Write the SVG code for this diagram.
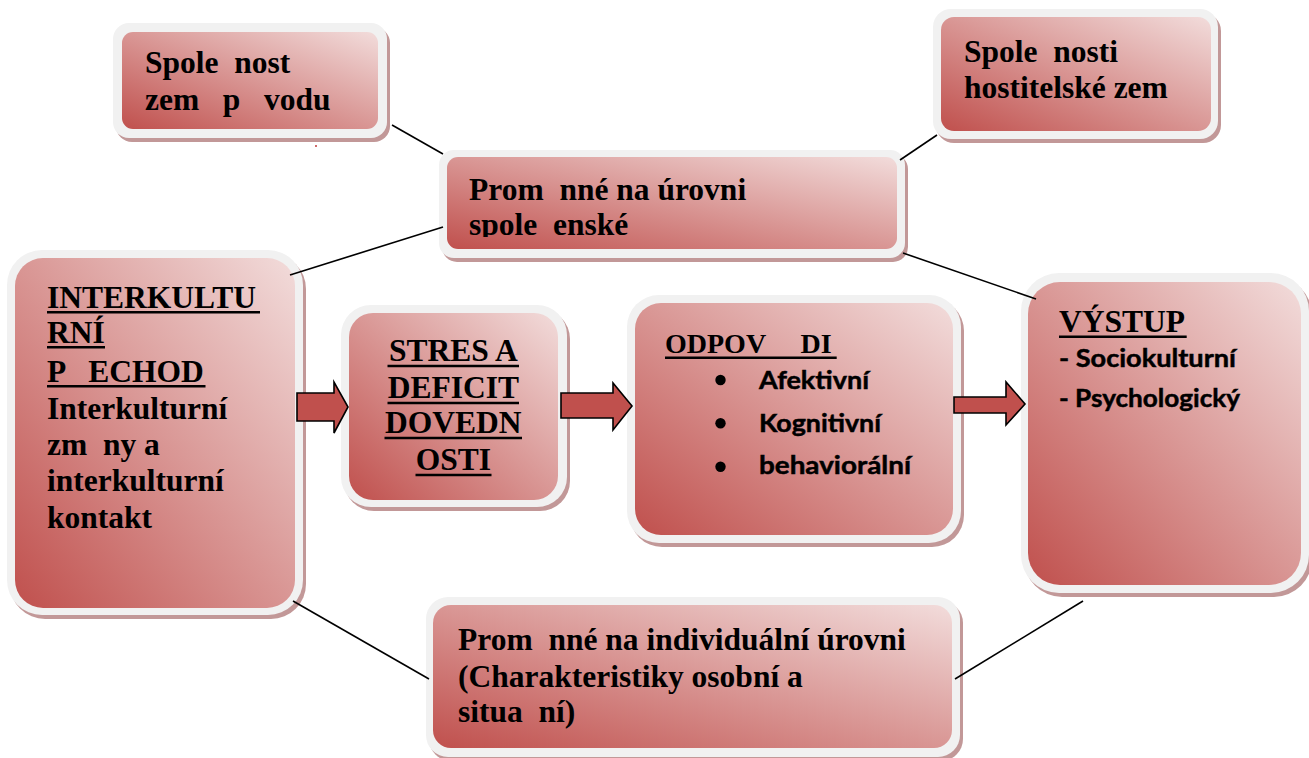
<svg xmlns="http://www.w3.org/2000/svg" width="1309" height="758" viewBox="0 0 1309 758">
<defs>
<linearGradient id="g" x1="0" y1="1" x2="1" y2="0">
<stop offset="0" stop-color="#c0504d"/>
<stop offset="1" stop-color="#f2dcdb"/>
</linearGradient>
<clipPath id="clip3"><rect x="447" y="157" width="450" height="80"/></clipPath>
<style>
.sh{fill:#c29898}
.bd{fill:#f1f1f1}
.in{fill:url(#g)}
.t{font-family:"Liberation Serif","Times New Roman",serif;font-weight:bold;font-size:31.5px;fill:#000;white-space:pre}
.s{font-family:Lato,"Liberation Sans",sans-serif;font-weight:bold;font-size:25.5px;fill:#000;stroke:#000;stroke-width:0.5;white-space:pre}
.ul{stroke:#000;stroke-width:2.6}
.cn{stroke:#000;stroke-width:1.6;fill:none}
.ar{fill:#c0504d;stroke:#000;stroke-width:1.6;stroke-linejoin:miter}
</style>
</defs>
<rect width="1309" height="758" fill="#fff"/>

<rect x="315" y="145" width="2" height="2" fill="#d06a6a"/>

<g id="n1">
<rect class="sh" x="116" y="27" width="274" height="115" rx="16"/>
<rect class="bd" x="113" y="23" width="274" height="115" rx="16"/>
<rect class="in" x="122" y="32" width="256" height="97" rx="11"/>
<text class="t" x="145" y="73">Spole  nost</text>
<text class="t" x="145" y="110">zem   p   vodu</text>
</g>

<g id="n2">
<rect class="sh" x="936" y="13" width="285" height="130" rx="18"/>
<rect class="bd" x="933" y="9" width="285" height="130" rx="18"/>
<rect class="in" x="941" y="17" width="270" height="114" rx="13"/>
<text class="t" x="964" y="62">Spole  nosti</text>
<text class="t" x="964" y="98">hostitelské zem</text>
</g>

<g id="n3">
<rect class="sh" x="442" y="154" width="466" height="108" rx="15"/>
<rect class="bd" x="439" y="150" width="466" height="108" rx="15"/>
<rect class="in" x="447" y="157" width="450" height="92" rx="11"/>
<text class="t" x="469" y="200">Prom  nné na úrovni</text>
<text class="t" x="469" y="235" clip-path="url(#clip3)">spole  enské</text>
</g>

<g id="n4">
<rect class="sh" x="10" y="254" width="296" height="365" rx="35"/>
<rect class="bd" x="7" y="250" width="296" height="365" rx="35"/>
<rect class="in" x="15" y="258" width="280" height="350" rx="28"/>
<text class="t" x="47" y="308">INTERKULTU</text>
<text class="t" x="47" y="343">RNÍ</text>
<text class="t" x="47" y="382">P   ECHOD</text>
<text class="t" x="47" y="419">Interkulturní</text>
<text class="t" x="47" y="455">zm  ny a</text>
<text class="t" x="47" y="491">interkulturní</text>
<text class="t" x="47" y="528">kontakt</text>
<line class="ul" x1="47" y1="312.3" x2="260" y2="312.3"/>
<line class="ul" x1="47" y1="347.3" x2="105" y2="347.3"/>
<line class="ul" x1="47" y1="386.3" x2="205.5" y2="386.3"/>
</g>

<g id="n5">
<rect class="sh" x="344" y="309" width="226" height="202" rx="30"/>
<rect class="bd" x="341" y="305" width="226" height="202" rx="30"/>
<rect class="in" x="349" y="313" width="209" height="187" rx="24"/>
<text class="t" x="453.3" y="361" text-anchor="middle">STRES A</text>
<text class="t" x="453.3" y="398" text-anchor="middle">DEFICIT</text>
<text class="t" x="453.3" y="433" text-anchor="middle">DOVEDN</text>
<text class="t" x="453.3" y="470" text-anchor="middle">OSTI</text>
<line class="ul" x1="387.5" y1="366" x2="519" y2="366"/>
<line class="ul" x1="387.5" y1="403" x2="519" y2="403"/>
<line class="ul" x1="384.5" y1="438" x2="522" y2="438"/>
<line class="ul" x1="415.5" y1="475" x2="491.5" y2="475"/>
</g>

<g id="n6">
<rect class="sh" x="630" y="299" width="334" height="248" rx="32"/>
<rect class="bd" x="627" y="295" width="334" height="248" rx="32"/>
<rect class="in" x="635" y="303" width="318" height="232" rx="26"/>
<text class="t" x="665" y="353" style="font-size:28px">ODPOV     DI</text>
<line class="ul" x1="665" y1="357.8" x2="836.7" y2="357.8"/>
<circle cx="720.5" cy="380" r="5.2"/>
<circle cx="720.5" cy="423.3" r="5.2"/>
<circle cx="720.5" cy="466.7" r="5.2"/>
<text class="s" x="759" y="388.5" textLength="110" lengthAdjust="spacingAndGlyphs">Afektivní</text>
<text class="s" x="759" y="431.5" textLength="122" lengthAdjust="spacingAndGlyphs">Kognitivní</text>
<text class="s" x="759" y="474" textLength="152" lengthAdjust="spacingAndGlyphs">behaviorální</text>
</g>

<g id="n7">
<rect class="sh" x="1024" y="277" width="288" height="320" rx="38"/>
<rect class="bd" x="1021" y="273" width="288" height="320" rx="38"/>
<rect class="in" x="1028" y="282" width="273" height="303" rx="32"/>
<text class="t" x="1059" y="332">VÝSTUP</text>
<line class="ul" x1="1059" y1="336.8" x2="1186.7" y2="336.8"/>
<text class="s" x="1059" y="367" textLength="177" lengthAdjust="spacingAndGlyphs">- Sociokulturní</text>
<text class="s" x="1059" y="407" textLength="181" lengthAdjust="spacingAndGlyphs">- Psychologický</text>
</g>

<g id="n8">
<rect class="sh" x="429" y="601" width="534" height="160" rx="22"/>
<rect class="bd" x="426" y="597" width="534" height="160" rx="22"/>
<rect class="in" x="433" y="605" width="519" height="143" rx="18"/>
<text class="t" x="458" y="650">Prom  nné na individuální úrovni</text>
<text class="t" x="458" y="687">(Charakteristiky osobní a</text>
<text class="t" x="458" y="722">situa  ní)</text>
</g>

<g id="connectors">
<line class="cn" x1="392" y1="125" x2="443" y2="154"/>
<line class="cn" x1="900" y1="160" x2="937" y2="135"/>
<line class="cn" x1="290" y1="275" x2="443" y2="227"/>
<line class="cn" x1="903" y1="253" x2="1036" y2="299"/>
<line class="cn" x1="293" y1="601" x2="429" y2="679"/>
<line class="cn" x1="955" y1="679" x2="1083" y2="601"/>
<polygon class="ar" points="297,393 334,393 334,382 348,407 334,433 334,421 297,421"/>
<polygon class="ar" points="561,393 613,393 613,383 632,406 613,430 613,418 561,418"/>
<polygon class="ar" points="954,397 1006,397 1006,382 1025,404 1006,425 1006,413 954,413"/>
</g>
</svg>
